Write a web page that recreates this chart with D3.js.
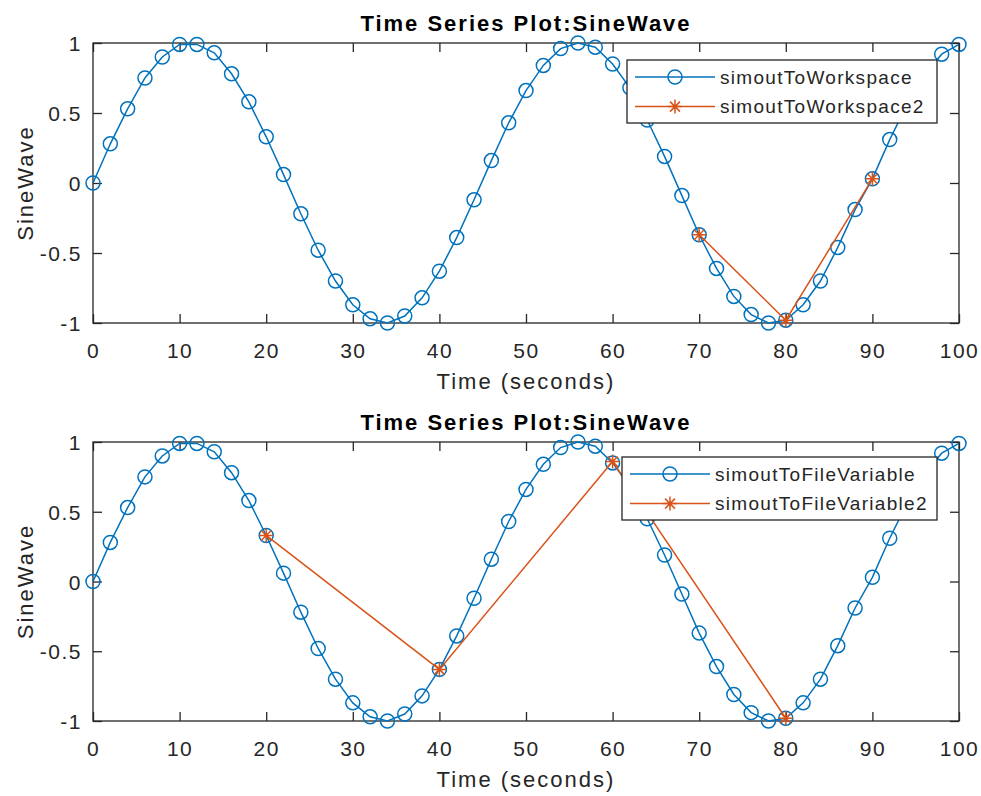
<!DOCTYPE html>
<html>
<head>
<meta charset="utf-8">
<script src="https://cdn.jsdelivr.net/npm/d3@7"></script>
<style>
  html, body { margin: 0; padding: 0; background: #ffffff; }
  svg { display: block; }
  text { font-family: "Liberation Sans", Arial, Helvetica, sans-serif; }
</style>
</head>
<body>
<svg id="chart" width="981" height="796"></svg>
<script>
// ---------------- data ----------------
const time = [0,2,4,6,8,10,12,14,16,18,20,22,24,26,28,30,32,34,36,38,40,42,44,46,48,50,
              52,54,56,58,60,62,64,66,68,70,72,74,76,78,80,82,84,86,88,90,92,94,96,98,100];
const sineWave = [0,0.28,0.53,0.75,0.90,0.99,0.99,0.93,0.78,0.58,0.33,0.06,-0.22,-0.48,-0.70,-0.87,
                  -0.97,-1.00,-0.95,-0.82,-0.63,-0.39,-0.12,0.16,0.43,0.66,0.84,0.96,1.00,0.97,0.85,
                  0.68,0.45,0.19,-0.09,-0.37,-0.61,-0.81,-0.94,-1.00,-0.98,-0.87,-0.70,-0.46,-0.19,
                  0.03,0.31,0.56,0.77,0.92,0.99];
const wsTime2 = [70, 80, 90];
const wsValue2 = [-0.37, -0.98, 0.03];
const fileTime2 = [20, 40, 60, 80];
const fileValue2 = [0.33, -0.63, 0.86, -0.98];
const xTicks = [0,10,20,30,40,50,60,70,80,90,100];
const yTicks = [-1,-0.5,0,0.5,1];
const panelTitles = ["Time Series Plot:SineWave", "Time Series Plot:SineWave"];
const legendTop = ["simoutToWorkspace", "simoutToWorkspace2"];
const legendBottom = ["simoutToFileVariable", "simoutToFileVariable2"];
const xLabel = "Time (seconds)";
const yLabel = "SineWave";

// ---------------- drawing ----------------
const BLUE = "#0072BD", ORANGE = "#D95319", AX = "#262626";
const svg = d3.select("#chart");
const zip = (a, b) => a.map((v, i) => [v, b[i]]);

const starPath = "M-7,0H7M0,-7V7M-5,-5L5,5M-5,5L5,-5";

function panel(top, bottom, title, s2t, s2v, legendNames, legendBox) {
  const left = 93, right = 959;
  const x = d3.scaleLinear().domain([0, 100]).range([left, right]);
  const y = d3.scaleLinear().domain([-1, 1]).range([bottom, top]);
  const g = svg.append("g");

  // axes with inward ticks, mirrored
  const tickLen = 9;
  const fmt = d => String(d).replace("−", "-");
  const xb = g.append("g").attr("transform", `translate(0,${bottom})`)
    .call(d3.axisBottom(x).tickValues(xTicks).tickSizeInner(-tickLen).tickSizeOuter(0).tickPadding(0).tickFormat(fmt));
  const xt = g.append("g").attr("transform", `translate(0,${top})`)
    .call(d3.axisTop(x).tickValues(xTicks).tickSizeInner(-tickLen).tickSizeOuter(0).tickFormat(""));
  const yl = g.append("g").attr("transform", `translate(${left},0)`)
    .call(d3.axisLeft(y).tickValues(yTicks).tickSizeInner(-tickLen).tickSizeOuter(0).tickPadding(0).tickFormat(fmt));
  const yr = g.append("g").attr("transform", `translate(${right},0)`)
    .call(d3.axisRight(y).tickValues(yTicks).tickSizeInner(-tickLen).tickSizeOuter(0).tickFormat(""));
  [xb, xt, yl, yr].forEach(a => {
    a.select(".domain").remove();
    a.selectAll(".tick line").attr("stroke", AX).attr("stroke-width", 1.3);
  });
  xb.selectAll(".tick text").attr("y", 35).attr("dy", null)
    .attr("font-size", 21).attr("letter-spacing", 1.5).attr("fill", AX)
    .attr("font-family", '"Liberation Sans", Arial, sans-serif');
  yl.selectAll(".tick text").attr("x", -11).attr("dy", "0.36em")
    .attr("font-size", 21).attr("letter-spacing", 1.5).attr("fill", AX)
    .attr("font-family", '"Liberation Sans", Arial, sans-serif');

  // box
  g.append("rect").attr("x", left).attr("y", top).attr("width", right - left).attr("height", bottom - top)
    .attr("fill", "none").attr("stroke", AX).attr("stroke-width", 1.3);

  // main series
  const line = d3.line().x(d => x(d[0])).y(d => y(d[1]));
  const main = zip(time, sineWave);
  g.append("path").attr("d", line(main)).attr("fill", "none").attr("stroke", BLUE).attr("stroke-width", 1.5);
  g.selectAll("circle.m").data(main).join("circle").attr("class", "m")
    .attr("cx", d => x(d[0])).attr("cy", d => y(d[1])).attr("r", 7)
    .attr("fill", "none").attr("stroke", BLUE).attr("stroke-width", 1.5);

  // second series
  const s2 = zip(s2t, s2v);
  g.append("path").attr("d", line(s2)).attr("fill", "none").attr("stroke", ORANGE).attr("stroke-width", 1.5);
  g.selectAll("path.s").data(s2).join("path").attr("class", "s")
    .attr("transform", d => `translate(${x(d[0])},${y(d[1])})`).attr("d", starPath)
    .attr("fill", "none").attr("stroke", ORANGE).attr("stroke-width", 1.5);

  // title and labels
  g.append("text").attr("x", (left + right) / 2).attr("y", top - 12).attr("text-anchor", "middle")
    .attr("font-size", 22).attr("font-weight", "bold").attr("letter-spacing", 2).attr("fill", "#000")
    .text(title);
  g.append("text").attr("x", (left + right) / 2).attr("y", bottom + 66).attr("text-anchor", "middle")
    .attr("font-size", 22).attr("letter-spacing", 2).attr("fill", AX).text(xLabel);
  g.append("text").attr("transform", `translate(33,${(top + bottom) / 2}) rotate(-90)`)
    .attr("text-anchor", "middle").attr("font-size", 22).attr("letter-spacing", 2).attr("fill", AX).text(yLabel);

  // legend
  const lb = legendBox;
  const lg = g.append("g");
  lg.append("rect").attr("x", lb.x).attr("y", lb.y).attr("width", lb.w).attr("height", lb.h)
    .attr("fill", "#fff").attr("stroke", AX).attr("stroke-width", 1.3);
  const rows = [lb.y + lb.h * 0.27, lb.y + lb.h * 0.74];
  const colors = [BLUE, ORANGE];
  legendNames.forEach((name, i) => {
    const yy = rows[i];
    lg.append("line").attr("x1", lb.x + 8).attr("x2", lb.x + 88).attr("y1", yy).attr("y2", yy)
      .attr("stroke", colors[i]).attr("stroke-width", 1.5);
    if (i === 0) {
      lg.append("circle").attr("cx", lb.x + 48).attr("cy", yy).attr("r", 7)
        .attr("fill", "none").attr("stroke", BLUE).attr("stroke-width", 1.5);
    } else {
      lg.append("path").attr("transform", `translate(${lb.x + 48},${yy})`).attr("d", starPath)
        .attr("fill", "none").attr("stroke", ORANGE).attr("stroke-width", 1.5);
    }
    lg.append("text").attr("x", lb.x + 93).attr("y", yy).attr("dy", "0.36em")
      .attr("font-size", 19).attr("letter-spacing", 1.3).attr("fill", AX).text(name);
  });
}

panel(43, 323, panelTitles[0], wsTime2, wsValue2, legendTop, {x: 627, y: 60, w: 310, h: 63});
panel(442, 721, panelTitles[1], fileTime2, fileValue2, legendBottom, {x: 622, y: 457, w: 315, h: 63});
</script>
</body>
</html>
